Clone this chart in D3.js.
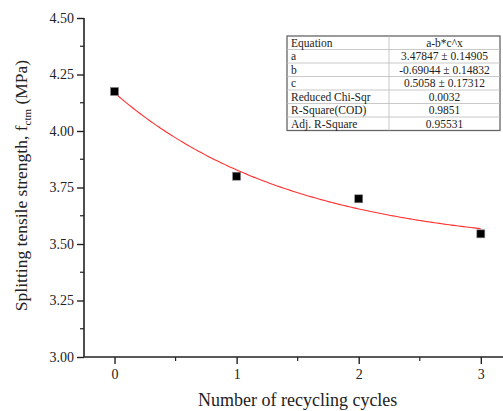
<!DOCTYPE html>
<html>
<head>
<meta charset="utf-8">
<script src="https://cdn.jsdelivr.net/npm/d3@7/dist/d3.min.js"></script>
<style>
  html, body { margin: 0; padding: 0; background: #fff; }
  svg { display: block; font-family: "Liberation Serif", "Times New Roman", serif; }
</style>
</head>
<body>
<svg id="chart" width="503" height="411"></svg>
<script>
// Measured splitting tensile strength per recycling cycle
const cycles = [0, 1, 2, 3];
const strength = [4.175, 3.80, 3.70, 3.545];

// Fitted exponential model y = a - b * c^x
const fitA = 3.47847;
const fitB = -0.69044;
const fitC = 0.5058;

const xTicks = [0, 1, 2, 3];
const yTicks = [3.00, 3.25, 3.50, 3.75, 4.00, 4.25, 4.50];

const tableLabels = ["Equation", "a", "b", "c", "Reduced Chi-Sqr", "R-Square(COD)", "Adj. R-Square"];
const tableValues = ["a-b*c^x", "3.47847 \u00b1 0.14905", "-0.69044 \u00b1 0.14832", "0.5058 \u00b1 0.17312", "0.0032", "0.9851", "0.95531"];

const svg = d3.select("#chart");
const plotLeft = 84, plotBottom = 357, plotTop = 18;

const x = d3.scaleLinear().domain([-0.25, 3.25]).range([plotLeft, plotLeft + 3.5 * 122.1]);
const y = d3.scaleLinear().domain([3.0, 4.5]).range([plotBottom, plotTop]);

// Axes
const yAxis = d3.axisLeft(y).tickValues(yTicks).tickFormat(d3.format(".2f")).tickSize(7).tickPadding(3);
const gy = svg.append("g").attr("transform", `translate(${plotLeft},0)`).call(yAxis);
gy.select(".domain").attr("d", `M0,${plotTop}V${plotBottom}`);

const xAxis = d3.axisBottom(x).tickValues(xTicks).tickFormat(d3.format("d")).tickSize(7).tickPadding(5);
const gx = svg.append("g").attr("transform", `translate(0,${plotBottom})`).call(xAxis);
gx.select(".domain").attr("d", `M${plotLeft},0H503`);

[gx, gy].forEach(g => {
  g.select(".domain").attr("stroke", "#222").attr("stroke-width", 1.6);
  g.selectAll(".tick line").attr("stroke", "#222").attr("stroke-width", 1.4);
  g.selectAll(".tick text").attr("fill", "#222").style("font-size", "14px")
    .style("font-family", "'Liberation Serif', serif");
});

// Minor ticks halfway between majors
const yMinor = d3.range(3.125, 4.5, 0.25);
svg.append("g").selectAll("line").data(yMinor).join("line")
  .attr("x1", plotLeft - 4).attr("x2", plotLeft)
  .attr("y1", d => y(d)).attr("y2", d => y(d))
  .attr("stroke", "#222").attr("stroke-width", 1.2);
const xMinor = [0.5, 1.5, 2.5];
svg.append("g").selectAll("line").data(xMinor).join("line")
  .attr("x1", d => x(d)).attr("x2", d => x(d))
  .attr("y1", plotBottom).attr("y2", plotBottom + 4)
  .attr("stroke", "#222").attr("stroke-width", 1.2);

// Axis titles
svg.append("text")
  .attr("x", x(1.5)).attr("y", 406)
  .attr("text-anchor", "middle").attr("fill", "#222")
  .style("font-size", "18px")
  .text("Number of recycling cycles");

const yt = svg.append("text")
  .attr("transform", `translate(27,${(plotTop + plotBottom) / 2 - 2}) rotate(-90)`)
  .attr("text-anchor", "middle").attr("fill", "#222")
  .style("font-size", "17.5px");
yt.append("tspan").text("Splitting tensile strength, f");
yt.append("tspan").attr("dy", 4).style("font-size", "11px").text("ctm");
yt.append("tspan").attr("dy", -4).text(" (MPa)");

// Fitted curve
const fitX = d3.range(0, 3.0001, 0.02);
const line = d3.line().x(d => x(d)).y(d => y(fitA - fitB * Math.pow(fitC, d)));
svg.append("path").datum(fitX)
  .attr("d", line).attr("fill", "none")
  .attr("stroke", "#ff3030").attr("stroke-width", 1.1);

// Data points
svg.append("g").selectAll("rect").data(cycles).join("rect")
  .attr("x", (d) => x(d) - 4).attr("y", (d, i) => y(strength[i]) - 4)
  .attr("width", 8).attr("height", 8)
  .attr("fill", "#000").attr("stroke", "#888").attr("stroke-width", 0.6);

// Fit parameter table
const tx = 287, ty = 36, rowH = 13.5, colSplit = 389, tRight = 500;
const tbl = svg.append("g");
tbl.append("rect")
  .attr("x", tx).attr("y", ty).attr("width", tRight - tx).attr("height", rowH * tableLabels.length)
  .attr("fill", "#fff").attr("stroke", "#666").attr("stroke-width", 1.3);
tbl.selectAll("line.row").data(d3.range(1, tableLabels.length)).join("line")
  .attr("class", "row")
  .attr("x1", tx).attr("x2", tRight)
  .attr("y1", d => ty + d * rowH).attr("y2", d => ty + d * rowH)
  .attr("stroke", "#bbb").attr("stroke-width", 0.8);
tbl.append("line")
  .attr("x1", colSplit).attr("x2", colSplit)
  .attr("y1", ty).attr("y2", ty + rowH * tableLabels.length)
  .attr("stroke", "#bbb").attr("stroke-width", 0.8);
tbl.selectAll("text.lab").data(tableLabels).join("text")
  .attr("class", "lab")
  .attr("x", tx + 4).attr("y", (d, i) => ty + i * rowH + 10.5)
  .attr("fill", "#222").style("font-size", "11.5px").text(d => d);
tbl.selectAll("text.val").data(tableValues).join("text")
  .attr("class", "val")
  .attr("x", (colSplit + tRight) / 2).attr("y", (d, i) => ty + i * rowH + 10.5)
  .attr("text-anchor", "middle")
  .attr("fill", "#222").style("font-size", "11.5px").text(d => d);
</script>
</body>
</html>
